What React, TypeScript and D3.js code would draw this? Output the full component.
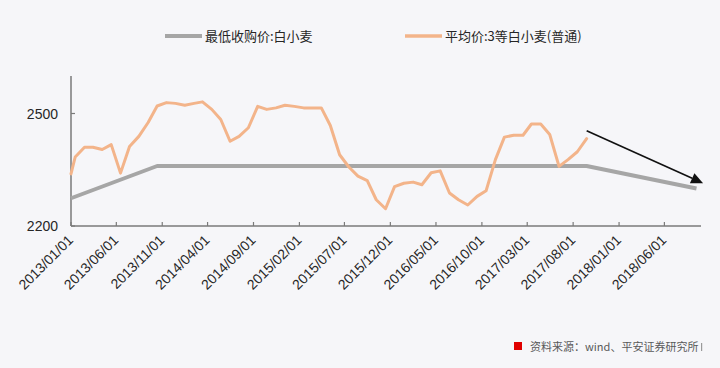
import React from 'react';
import * as d3 from 'd3';

const tickLabels = [
  '2013/01/01', '2013/06/01', '2013/11/01', '2014/04/01', '2014/09/01', '2015/02/01', '2015/07/01',
  '2015/12/01', '2016/05/01', '2016/10/01', '2017/03/01', '2017/08/01', '2018/01/01', '2018/06/01',
];
const yTicks = [2200, 2500];
const xDomain = ['2013-01-01', '2018-10-01'];
const yDomain = [2200, 2600];

const legendLabels = ['最低收购价:白小麦', '平均价:3等白小麦(普通)'];
const sourceText = '资料来源：wind、平安证券研究所';

const minDates = ['2013-01-01', '2013-10-15', '2017-09-15', '2018-09-16'];
const minValues = [2274, 2360, 2360, 2300];

const avgDates = [
  '2013-01-01', '2013-01-15', '2013-02-15', '2013-03-15', '2013-04-15', '2013-05-15', '2013-06-15',
  '2013-07-15', '2013-08-15', '2013-09-15', '2013-10-15', '2013-11-15', '2013-12-15',
  '2014-01-15', '2014-02-15', '2014-03-15', '2014-04-15', '2014-05-15', '2014-06-15',
  '2014-07-15', '2014-08-15', '2014-09-15', '2014-10-15', '2014-11-15', '2014-12-15',
  '2015-01-15', '2015-02-15', '2015-03-15', '2015-04-15', '2015-05-15', '2015-06-15',
  '2015-07-15', '2015-08-15', '2015-09-15', '2015-10-15', '2015-11-15', '2015-12-15',
  '2016-01-15', '2016-02-15', '2016-03-15', '2016-04-15', '2016-05-15', '2016-06-15',
  '2016-07-15', '2016-08-15', '2016-09-15', '2016-10-15', '2016-11-15', '2016-12-15',
  '2017-01-15', '2017-02-15', '2017-03-15', '2017-04-15', '2017-05-15', '2017-06-15',
  '2017-07-15', '2017-08-15', '2017-09-15',
];
const avgValues = [
  2339, 2384, 2410, 2410, 2404, 2417, 2341,
  2412, 2439, 2476, 2520, 2529, 2527,
  2522, 2527, 2531, 2511, 2484, 2426,
  2439, 2462, 2519, 2511, 2515, 2522,
  2519, 2515, 2515, 2515, 2468, 2390,
  2358, 2333, 2321, 2270, 2246, 2305,
  2314, 2317, 2310, 2342, 2347, 2288,
  2270, 2256, 2279, 2294, 2377, 2437,
  2442, 2442, 2472, 2472, 2444, 2359,
  2377, 2398, 2433,
];

const arrowDates = ['2017-09-15', '2018-10-08'];
const arrowValues = [2454, 2314];

const GRAY = '#a6a6a6';
const ORANGE = '#f3b48a';
const AXIS = '#7a7a7a';
const TEXT = '#262626';
const LATIN = '"Liberation Sans", Arial, sans-serif';
const CJK = '"Noto Sans CJK SC", "Noto Sans", sans-serif';

export default function App() {
  const W = 720;
  const H = 368;
  const pISO = d3.utcParse('%Y-%m-%d');
  const pSlash = d3.utcParse('%Y/%m/%d');

  const x = d3.scaleUtc().domain(xDomain.map((d) => pISO(d) as Date)).range([71, 701]);
  const y = d3.scaleLinear().domain(yDomain).range([226, 76]);

  const line = d3
    .line<[Date, number]>()
    .x((d) => x(d[0]))
    .y((d) => y(d[1]));

  const minPts = minDates.map((d, i) => [pISO(d) as Date, minValues[i]] as [Date, number]);
  const avgPts = avgDates.map((d, i) => [pISO(d) as Date, avgValues[i]] as [Date, number]);

  const x0 = x.range()[0];
  const x1 = x.range()[1];
  const yb = y(yDomain[0]);
  const yt = y(yDomain[1]);

  // arrow
  const ax1 = x(pISO(arrowDates[0]) as Date);
  const ay1 = y(arrowValues[0]);
  const ax2 = x(pISO(arrowDates[1]) as Date);
  const ay2 = y(arrowValues[1]);
  const ang = Math.atan2(ay2 - ay1, ax2 - ax1);
  const hl = 12;
  const hw = 5.5;
  const bx = ax2 - hl * Math.cos(ang);
  const by = ay2 - hl * Math.sin(ang);
  const head = [
    [ax2, ay2],
    [bx + hw * Math.sin(ang), by - hw * Math.cos(ang)],
    [bx - hw * Math.sin(ang), by + hw * Math.cos(ang)],
  ]
    .map((p) => p.join(','))
    .join(' ');

  return (
    <svg
      width={W}
      height={H}
      style={{ position: 'absolute', left: 0, top: 0, display: 'block' }}
      xmlns="http://www.w3.org/2000/svg"
    >
      <rect x={0} y={0} width={W} height={H} fill="#f6f6f9" />

      {/* legend */}
      <line x1={165} x2={202} y1={36} y2={36} stroke={GRAY} strokeWidth={4} />
      <text x={205} y={41} fontFamily={CJK} fontSize={13} fill={TEXT}>
        {legendLabels[0]}
      </text>
      <line x1={405} x2={442} y1={36} y2={36} stroke={ORANGE} strokeWidth={3.5} />
      <text x={445} y={41} fontFamily={CJK} fontSize={13} fill={TEXT}>
        {legendLabels[1]}
      </text>

      {/* axes */}
      <line x1={x0} x2={x0} y1={yt} y2={yb} stroke={AXIS} strokeWidth={1.5} />
      <line x1={x0} x2={x1} y1={yb} y2={yb} stroke={AXIS} strokeWidth={1.5} />
      {yTicks.map((t) => (
        <g key={t}>
          <line x1={x0} x2={x0 + 4} y1={y(t)} y2={y(t)} stroke={AXIS} strokeWidth={1.2} />
          <text
            x={58}
            y={y(t) + 5}
            textAnchor="end"
            fontFamily={LATIN}
            fontSize={14}
            fill={TEXT}
          >
            {t}
          </text>
        </g>
      ))}
      {tickLabels.map((lab) => {
        const tx = x(pSlash(lab) as Date);
        return (
          <g key={lab}>
            <line x1={tx} x2={tx} y1={yb} y2={yb - 4} stroke={AXIS} strokeWidth={1.2} />
            <text
              transform={`translate(${tx + 3},${yb + 15}) rotate(-45)`}
              textAnchor="end"
              fontFamily={LATIN}
              fontSize={14}
              fill={TEXT}
            >
              {lab}
            </text>
          </g>
        );
      })}

      {/* series */}
      <path d={line(minPts) || ''} fill="none" stroke={GRAY} strokeWidth={4} strokeLinejoin="round" />
      <path
        d={line(avgPts) || ''}
        fill="none"
        stroke={ORANGE}
        strokeWidth={3}
        strokeLinejoin="round"
        strokeLinecap="round"
      />

      {/* arrow */}
      <line x1={ax1} y1={ay1} x2={bx} y2={by} stroke="#111" strokeWidth={1.6} />
      <polygon points={head} fill="#111" />

      {/* source */}
      <rect x={514} y={342} width={8} height={8} fill="#e00000" />
      <text x={530} y={351} fontFamily={CJK} fontSize={11} fill="#595959">
        {sourceText}
      </text>
      <rect x={701} y={343} width={1.2} height={8} fill="#9a9a9a" />
    </svg>
  );
}
